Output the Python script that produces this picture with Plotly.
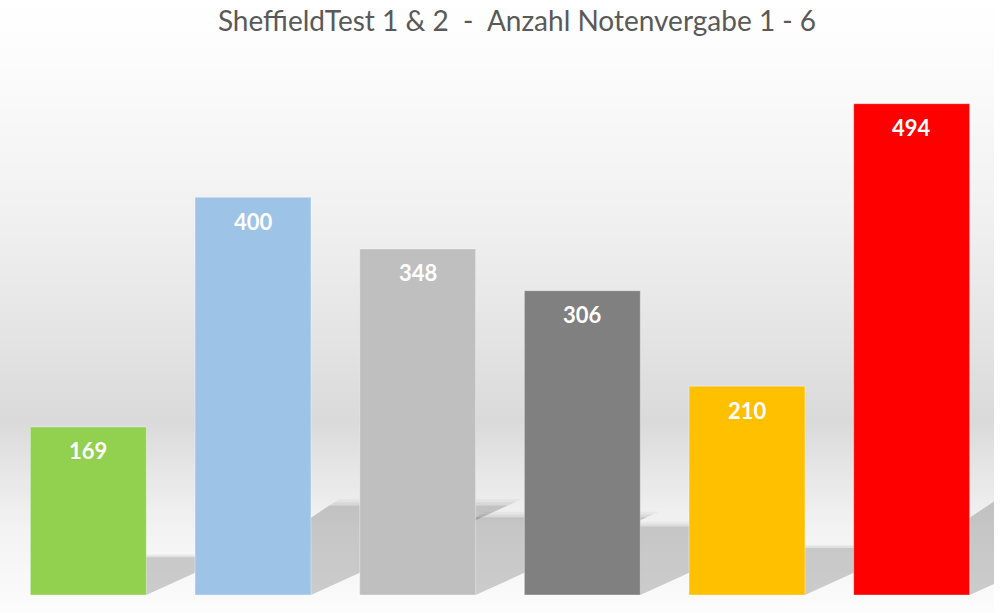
import numpy as np
import plotly.graph_objects as go

# Noten 1 - 6
noten = ["1", "2", "3", "4", "5", "6"]
anzahl = [169, 400, 348, 306, 210, 494]
farben = ["#92D050", "#9DC3E6", "#BFBFBF", "#808080", "#FFC000", "#FF0000"]
titel = "SheffieldTest 1 & 2  -  Anzahl Notenvergabe 1 - 6"

W, H = 1000, 613
m_l, m_r, m_t, m_b = 6, 6, 48, 18
y_max = 550
bar_w = 0.704

x_pos = np.arange(len(noten))

fig = go.Figure()

fig.add_trace(go.Bar(x=x_pos, y=anzahl, width=bar_w,
                     marker=dict(color=farben, line=dict(width=1, color="rgba(255,255,255,0.35)")),
                     showlegend=False))

for i, v in zip(x_pos, anzahl):
    fig.add_annotation(x=i, y=v, text=str(v), showarrow=False, yanchor="middle", yshift=-24,
                       font=dict(family="Lato", size=22, color="white", weight="bold"))

# background gradient (horizontal bands)
stops_px = [0, 60, 200, 300, 420, 470, 530, 597, 613]
stops_g = [255, 252, 242, 232, 218, 230, 243, 250, 253]
plot_h = H - m_t - m_b
shapes = []
band = 4
for y0 in range(0, H, band):
    g = int(round(np.interp(y0 + band / 2, stops_px, stops_g)))
    p0 = (H - m_b - (y0 + band)) / plot_h
    p1 = (H - m_b - y0) / plot_h
    shapes.append(dict(type="rect", xref="paper", yref="paper",
                       x0=-m_l / (W - m_l - m_r), x1=1.0, y0=p0, y1=p1,
                       fillcolor=f"rgb({g},{g},{g})", line=dict(width=0), layer="below"))

# shadow behind each bar, thrown back to the right (rough perspective)
px_per_unit = plot_h / y_max
px_per_cat = (W - m_l - m_r) / len(noten)
k_h = 0.225         # shadow height per bar height
k_left = 1.5        # dx/dy of the left shadow edge
k_right = 2.2       # dx/dy of the right shadow edge
for i, v in zip(x_pos, anzahl):
    for grow, alpha in [(1.07, 0.04), (1.035, 0.05), (1.0, 0.1)]:
        sh = k_h * v * grow
        sh_px = sh * px_per_unit
        dxl = k_left * sh_px / px_per_cat
        dxr = k_right * sh_px / px_per_cat
        hw = bar_w / 2
        path = (f"M {i - hw},0 L {i + hw},0 L {i + hw + dxr},{sh} "
                f"L {i - hw + dxl},{sh} Z")
        shapes.append(dict(type="path", xref="x", yref="y", path=path,
                           fillcolor=f"rgba(0,0,0,{alpha})", line=dict(width=0), layer="below"))

fig.update_layout(
    width=W, height=H,
    margin=dict(l=m_l, r=m_r, t=m_t, b=m_b),
    paper_bgcolor="white", plot_bgcolor="rgba(0,0,0,0)",
    shapes=shapes,
    title=dict(text=titel, x=0.517, xanchor="center", y=1 - 21 / H, yanchor="middle",
               yref="container",
               font=dict(family="Lato", size=28, color="#595959")),
    xaxis=dict(range=[-0.5, 5.5], visible=False, fixedrange=True),
    yaxis=dict(range=[0, y_max], visible=False, fixedrange=True),
    bargap=0.3,
)

fig.write_html("out.html", config={"displayModeBar": False})

# drop the default page margin so the figure sits at 0,0
with open("out.html", encoding="utf-8") as f:
    html = f.read()
html = html.replace("<body>", '<body style="margin:0">', 1)
with open("out.html", "w", encoding="utf-8") as f:
    f.write(html)
